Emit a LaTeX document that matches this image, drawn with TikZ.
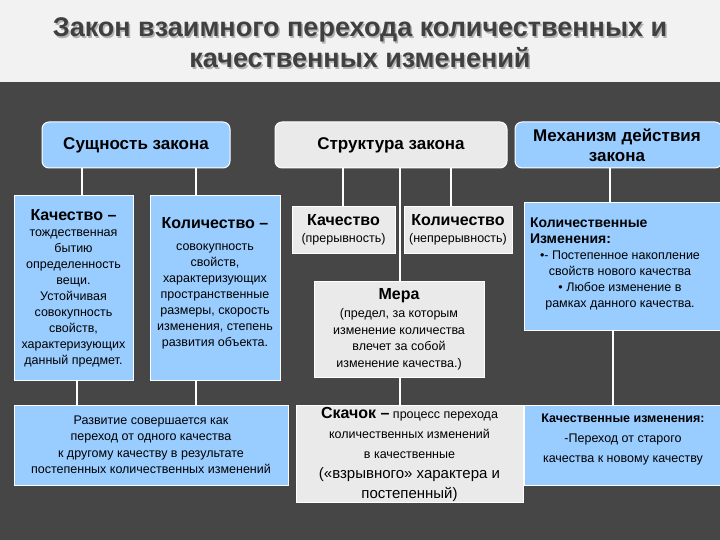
\documentclass[tikz,border=0pt]{standalone}
\usepackage{fontspec}
\setmainfont{Liberation Sans}
\newcommand\btt{\fontsize{16}{19}\selectfont\bfseries}
\begin{document}
\begin{tikzpicture}[x=1pt,y=-1pt,
 bx/.style={draw=white,line width=1pt,align=center,inner sep=1pt},
 blu/.style={bx,fill=lb}, gry/.style={bx,fill=lg},
 ln/.style={draw=white,line width=2pt},
 tx/.style={align=center,inner sep=0pt},
 hd/.style={tx,font=\fontsize{17}{20}\selectfont\bfseries},
 bd/.style={tx,font=\fontsize{12.5}{16.5}\selectfont}]
\definecolor{lb}{HTML}{99CCFF}\definecolor{lg}{HTML}{EAEAEA}\definecolor{bg}{HTML}{464646}
\useasboundingbox (0,0) rectangle (720,540);
\fill[bg] (0,0) rectangle (720,540);
\fill[white!95!black] (0,0) rectangle (720,82);
\node [align=center,font=\fontsize{27}{31}\selectfont\bfseries,text=black!30] at (361.5,44.5) {Закон взаимного перехода количественных и\\качественных изменений};
\node (t) [align=center,font=\fontsize{27}{31}\selectfont\bfseries,text=black!75] at (360,43) {Закон взаимного перехода количественных и\\качественных изменений};
\draw[ln] (82,168)--(82,196) (196,168)--(196,196) (343,168)--(343,207) (451,168)--(451,207) (400,168)--(400,405) (610,168)--(610,203) (613,330)--(613,405) (77,380)--(77,405) (196,380)--(196,405);
\path[blu,rounded corners=7pt] (42,122) rectangle (230,168); \node (a) [hd] at (136,145) {Сущность закона};
\path[gry,rounded corners=7pt] (275,122) rectangle (507,168); \node (b) [hd] at (391,145) {Структура закона};
\path[blu,rounded corners=7pt] (515,122) rectangle (722,168); \node (c) [hd] at (617,145) {Механизм действия\\закона};
\path[blu] (14,196) rectangle (133,380); \node (d) [bd,font=\fontsize{12.5}{16}\selectfont] at (73.5,288) {{\btt Качество –}\\тождественная\\бытию\\определенность\\вещи.\\Устойчивая\\совокупность\\свойств,\\характеризующих\\данный предмет.};
\path[blu] (150,196) rectangle (280,380); \node (e) [bd,font=\fontsize{12.5}{16}\selectfont] at (215,283) {{\btt Количество –}\\[6pt]совокупность\\свойств,\\характеризующих\\пространственные\\размеры, скорость\\изменения, степень\\развития объекта.};
\path[gry] (292,207) rectangle (395,253); \node (f) [bd] at (343.5,230) {{\btt Качество}\\(прерывность)};
\path[gry] (404,207) rectangle (512,253); \node (g) [bd] at (458,230) {{\btt Количество}\\(непрерывность)};
\path[gry] (314,281) rectangle (484,377); \node (h) [bd] at (399,329) {{\btt Мера}\\[2pt](предел, за которым\\изменение количества\\влечет за собой\\изменение качества.)};
\path[blu] (524,203) rectangle (722,330); \node (i) [bd,font=\fontsize{12.5}{16}\selectfont] at (620,264) {\makebox[180pt][l]{\fontsize{14}{17}\selectfont\bfseries Количественные}\\\makebox[180pt][l]{\fontsize{14}{17}\selectfont\bfseries Изменения:}\\•- Постепенное накопление\\свойств нового качества\\• Любое изменение в\\рамках данного качества.};
\path[blu] (14,405) rectangle (288,485); \node (j) [bd] at (151,445) {Развитие совершается как\\переход от одного качества\\к другому качеству в результате\\постепенных количественных изменений};
\path[gry] (296,405) rectangle (523,502); \node (k) [bd,font=\fontsize{12.5}{20}\selectfont] at (409.5,454) {{\btt Скачок –} процесс перехода\\количественных изменений\\в качественные\\{\fontsize{15}{20}\selectfont («взрывного» характера и}\\{\fontsize{15}{20}\selectfont постепенный)}};
\path[blu] (524,405) rectangle (722,485); \node (l) [bd,font=\fontsize{12.5}{20}\selectfont] at (623,439) {{\bfseries Качественные изменения:}\\-Переход от старого\\качества к новому качеству};
\end{tikzpicture}
\end{document}
